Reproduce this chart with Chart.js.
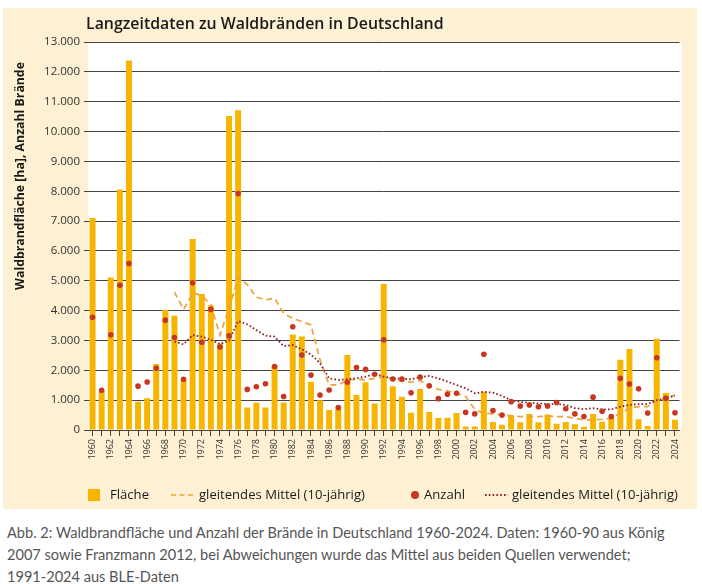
<!DOCTYPE html>
<html><head><meta charset="utf-8">
<script src="https://cdn.jsdelivr.net/npm/chart.js@4.4.1/dist/chart.umd.min.js"></script>
<style>
html,body{margin:0;padding:0;background:#fff;width:702px;height:584px;overflow:hidden}
#wrap{position:absolute;left:0;top:0;width:702px;height:512px}
#title{position:absolute;left:86px;top:12px;font-family:"Open Sans";font-weight:600;color:#1a1a1a;white-space:nowrap;line-height:22px}
#caption{position:absolute;left:7px;top:522px;font-family:Lato;line-height:22px;color:#555;white-space:nowrap}
</style></head>
<body>
<div id="wrap"><canvas id="c" width="702" height="512" style="width:702px;height:512px"></canvas></div>
<div id="title">Langzeitdaten zu Waldbränden in Deutschland</div>
<div id="caption"><span id="cap1">Abb. 2: Waldbrandfläche und Anzahl der Brände in Deutschland 1960-2024. Daten: 1960-90 aus König</span><br>2007 sowie Franzmann 2012, bei Abweichungen wurde das Mittel aus beiden Quellen verwendet;<br>1991-2024 aus BLE-Daten</div>
<script>
const years = [];
for (let y = 1960; y <= 2024; y++) years.push(String(y));

const flaeche = [7100,1300,5110,8060,12380,950,1060,2210,4020,3830,
  1670,6400,4560,4180,2900,10520,10710,750,910,750,
  2150,920,3200,3130,1620,1000,670,700,2510,1170,
  1600,890,4890,1470,1110,580,1370,600,400,410,
  570,120,120,1280,270,180,480,260,540,260,
  520,210,270,190,110,540,280,410,2350,2710,
  360,130,3060,1240,340];

const anzahl = [3780,1330,3190,4850,5580,1470,1610,2070,3680,3100,
  1700,4930,2940,4040,2780,3160,7920,1360,1450,1550,
  2130,1120,3460,2510,1840,1170,1340,750,1600,2090,
  2030,1870,3020,1710,1710,1250,1770,1480,1050,1200,
  1230,590,540,2540,650,500,950,800,840,780,
  800,920,710,540,450,1100,630,450,1730,1540,
  1380,570,2420,1060,580];

const mittelFlaeche = [null,null,null,null,null,null,null,null,null,4620,
  4040,4580,4520,4190,3180,4080,5110,4870,4450,4360,
  4420,3910,3740,3630,3520,2350,1510,1510,1680,1700,
  1680,1730,1790,1700,1630,1600,1660,1470,1360,1310,
  1230,1120,690,560,540,500,480,450,450,450,
  470,450,450,390,340,340,360,390,560,730,
  780,780,1000,1060,1170];

const mittelAnzahl = [null,null,null,null,null,null,null,null,null,2960,
  2870,3180,3130,3020,2880,3000,3650,3540,3350,3160,
  3130,2810,2850,2700,2530,2240,1730,1680,1700,1730,
  1790,1880,1790,1730,1720,1700,1770,1810,1730,1620,
  1510,1400,1230,1280,1250,1140,1000,940,910,890,
  870,870,840,730,700,730,690,690,780,840,
  870,870,1000,1060,1150];

const yTicks = [0,1000,2000,3000,4000,5000,6000,7000,8000,9000,10000,11000,12000,13000];
const legendLabels = ['Fläche','gleitendes Mittel (10-jährig)','Anzahl','gleitendes Mittel (10-jährig)'];
const yTitle = 'Waldbrandfläche [ha], Anzahl Brände';

const mctx = document.createElement('canvas').getContext('2d');
function fit(text, weight, family, target){
  mctx.font = weight + ' 100px ' + family;
  return 100 * target / mctx.measureText(text).width;
}
const tEl = document.getElementById('title');
tEl.style.fontSize = fit(tEl.textContent, 600, '"Open Sans"', 358).toFixed(2) + 'px';
const capSize = fit(document.getElementById('cap1').textContent, 400, 'Lato', 659);
document.getElementById('caption').style.fontSize = capSize.toFixed(2) + 'px';

const legSize = fit(legendLabels[1], 400, '"Open Sans"', 166);
const yTitleSize = fit(yTitle, 700, '"Open Sans"', 228);

function fmt(v){
  const s = String(Math.round(v));
  return s.replace(/\B(?=(\d{3})+(?!\d))/g, '.');
}

const C_BAR = '#f7b500', C_DASH = '#eea23a', C_DOT = '#c9361f', C_DOTLINE = '#8e1f2a';

const bgPlugin = {
  id: 'bg',
  beforeDraw(chart){
    const {ctx, chartArea: a} = chart;
    ctx.save();
    ctx.fillStyle = '#fdf0d3';
    ctx.fillRect(3, 8, 694, 501);
    ctx.fillStyle = '#ffffff';
    ctx.fillRect(a.left, a.top, a.right - a.left + 2, a.bottom - a.top);
    ctx.restore();
  }
};

const decoPlugin = {
  id: 'deco',
  afterDraw(chart){
    const ctx = chart.ctx;
    const ds = chart.data.datasets;
    ctx.save();
    // y axis title
    ctx.save();
    ctx.translate(21, 176);
    ctx.rotate(-Math.PI/2);
    ctx.font = '700 ' + yTitleSize.toFixed(2) + 'px "Open Sans"';
    ctx.fillStyle = '#1a1a1a';
    ctx.textAlign = 'center';
    ctx.textBaseline = 'middle';
    ctx.fillText(yTitle, 0, 0);
    ctx.restore();
    // legend
    const y = 495;
    ctx.font = '400 ' + legSize.toFixed(2) + 'px "Open Sans"';
    ctx.fillStyle = '#1a1a1a';
    ctx.textBaseline = 'middle';
    ctx.textAlign = 'left';
    ctx.fillStyle = ds[3].backgroundColor;
    ctx.fillRect(88, 489, 12, 12);
    ctx.fillStyle = '#1a1a1a';
    ctx.fillText(legendLabels[0], 110, y);
    ctx.save();
    ctx.strokeStyle = ds[2].borderColor; ctx.lineWidth = ds[2].borderWidth;
    ctx.setLineDash([5, 3.5]);
    ctx.beginPath(); ctx.moveTo(171, y); ctx.lineTo(194, y); ctx.stroke();
    ctx.restore();
    ctx.fillText(legendLabels[1], 199, y);
    ctx.fillStyle = ds[0].backgroundColor;
    ctx.beginPath(); ctx.arc(415, y, 4, 0, Math.PI*2); ctx.fill();
    ctx.fillStyle = '#1a1a1a';
    ctx.fillText(legendLabels[2], 424, y);
    ctx.save();
    ctx.strokeStyle = ds[1].borderColor; ctx.lineWidth = ds[1].borderWidth;
    ctx.setLineDash(ds[1].borderDash);
    ctx.beginPath(); ctx.moveTo(485, y); ctx.lineTo(508, y); ctx.stroke();
    ctx.restore();
    ctx.fillText(legendLabels[3], 512, y);
    ctx.restore();
  }
};

Chart.defaults.font.family = '"Open Sans"';

new Chart(document.getElementById('c'), {
  type: 'bar',
  data: {
    labels: years,
    datasets: [
      { type: 'line', label: 'Anzahl', data: anzahl, showLine: false,
        backgroundColor: C_DOT, borderColor: C_DOT, pointRadius: 2.8, pointBorderWidth: 0, order: 1 },
      { type: 'line', label: 'gleitendes Mittel (10-jährig)', data: mittelAnzahl,
        borderColor: C_DOTLINE, borderWidth: 1.8, borderDash: [1.6, 2.2], pointRadius: 0,
        fill: false, tension: 0, spanGaps: false, order: 2 },
      { type: 'line', label: 'gleitendes Mittel (10-jährig)', data: mittelFlaeche,
        borderColor: C_DASH, borderWidth: 1.7, borderDash: [6, 4], pointRadius: 0,
        fill: false, tension: 0, order: 3 },
      { type: 'bar', label: 'Fläche', data: flaeche, backgroundColor: C_BAR,
        barPercentage: 0.66, categoryPercentage: 1, order: 4 }
    ]
  },
  options: {
    responsive: false,
    animation: false,
    layout: { padding: { top: 42, right: 22.5, bottom: 0, left: 0 } },
    plugins: { legend: { display: false }, tooltip: { enabled: false }, title: { display: false } },
    scales: {
      x: {
        afterFit(s){ s.height = 82; },
        grid: { display: true, drawOnChartArea: false, drawTicks: true, tickLength: 6, offset: false, color: '#444', lineWidth: 1 },
        border: { display: true, color: '#444', width: 1 },
        ticks: { autoSkip: false, maxRotation: 90, minRotation: 90, padding: 3, color: '#333',
          font: { size: 9 },
          callback(v, i){ return (Number(years[i]) % 2 === 0) ? years[i] : ''; } }
      },
      y: {
        min: 0, max: 13000,
        afterFit(s){ s.width = 88; },
        afterBuildTicks(s){ s.ticks = yTicks.map(v => ({ value: v })); },
        grid: { color: '#444', lineWidth: 1, tickLength: 4, drawTicks: true },
        border: { display: false },
        ticks: { padding: 4, color: '#333', font: { size: 11.5 }, callback(v){ return fmt(v); } }
      }
    }
  },
  plugins: [bgPlugin, decoPlugin]
});
</script>
</body></html>
